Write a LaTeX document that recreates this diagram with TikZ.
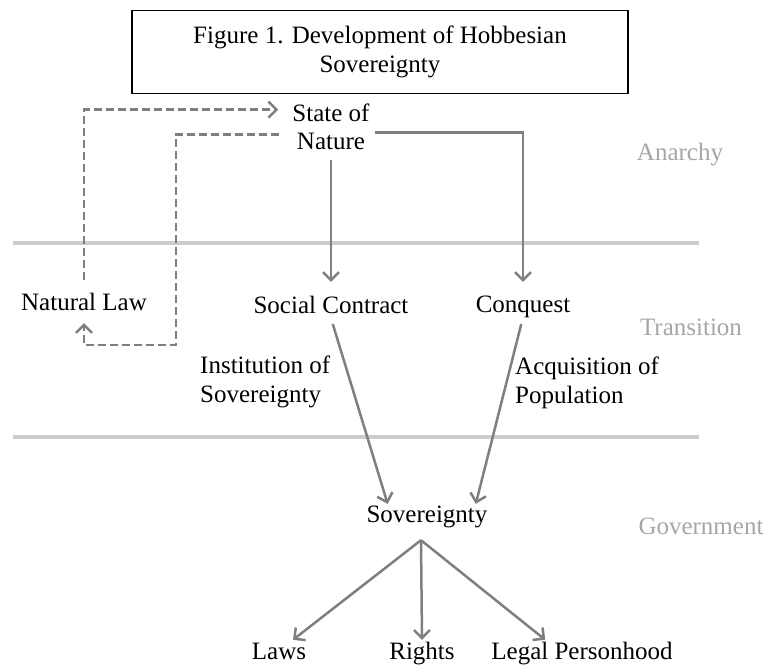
\documentclass[tikz,border=0pt]{standalone}
\usepackage{fontspec}
\setmainfont{Liberation Serif}
\usepackage{xcolor}
\usetikzlibrary{arrows.meta}
\definecolor{linegray}{HTML}{7F7F7F}
\definecolor{bandgray}{HTML}{CCCCCC}
\definecolor{labelgray}{HTML}{A6A6A6}
\tikzset{
  txt/.style={inner sep=0pt, text height=17pt, text depth=5pt},
  phase/.style={txt, text=labelgray},
  conn/.style={draw=linegray, line width=2.5pt, -{Straight Barb[length=\l, width=\w]}},
  dconn/.style={conn, dash pattern=on 8pt off 4pt},
  band/.style={draw=bandgray, line width=4pt}
}
\begin{document}
\begin{tikzpicture}[x=1pt, y=-1pt, font=\fontsize{25}{28.5}\selectfont]
\def\l{8pt}
\def\w{16pt}
\useasboundingbox (0,0) rectangle (764,665);
%\draw[red] (0,0) rectangle (764,665);

\node [draw, line width=1.5pt, minimum width=496pt, minimum height=83pt, align=center, name=title] at (380,52) {Figure 1. Development of Hobbesian\\Sovereignty};

\node [inner sep=0pt, align=center, name=son]  at (331,127) {State of\\Nature};
\node [txt, name=nl]     at (84,304)  {Natural Law};
\node [txt, name=sc]     at (331,307) {Social Contract};
\node [txt, name=cq]     at (523,306) {Conquest};
\node [inner sep=0pt, align=left, anchor=west, name=inst] at (200,382) {Institution of\\Sovereignty};
\node [inner sep=0pt, align=left, anchor=west, name=acq]  at (515,383) {Acquisition of\\Population};
\node [txt, name=sov]    at (427,516) {Sovereignty};
\node [txt, name=laws]   at (279,653) {Laws};
\node [txt, name=rights] at (422,653) {Rights};
\node [txt, name=legal]  at (582,653) {Legal Personhood};

\node [phase, name=anarchy]    at (680,154) {Anarchy};
\node [phase, name=transition] at (691,329) {Transition};
\node [phase, name=government] at (701,528) {Government};

% phase borders
\draw [band] (13,243) -- (699,243);
\draw [band] (13,437) -- (699,437);

% natural law loop
\coordinate (loop) at (176,345);
\draw [dconn, shorten <=13pt, shorten >=14pt](nl.north) |- ([yshift=-6pt]son.north west);
\draw [dconn, shorten <=13pt, shorten >=8pt]([yshift=-31pt]son.north west) -| (loop) -| (nl.south);

% anarchy to transition
\draw [conn, shorten <=10pt, shorten >=14pt](son.south) to (sc.north);
\draw [conn, shorten >=13pt]([xshift=5pt, yshift=-29pt]son.north east) -| (cq.north);

% transition to government
\draw [conn, shorten <=6pt, shorten >=1pt](sc.south) to (sov.164);
\draw [conn, shorten <=7pt, shorten >=1pt](cq.south) to (sov.13);

\coordinate (fan) at ([xshift=-6pt, yshift=-13pt]sov.south);
\draw [conn](fan) to ([xshift=14pt, yshift=2pt]laws.north);
\draw [conn](fan) to ([yshift=2pt]rights.north);
\draw [conn](fan) to ([xshift=54pt, yshift=2pt]legal.north west);
\end{tikzpicture}
\end{document}
